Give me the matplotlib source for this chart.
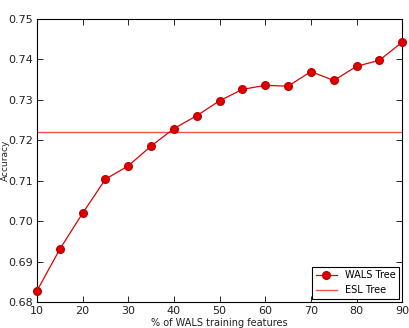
import matplotlib
matplotlib.use("Agg")
import matplotlib.pyplot as plt

pct = [10, 15, 20, 25, 30, 35, 40, 45, 50, 55, 60, 65, 70, 75, 80, 85, 90]
wals_acc = [0.6828, 0.6931, 0.7020, 0.7104, 0.7137, 0.7186, 0.7229, 0.7261, 0.7298,
            0.7326, 0.7336, 0.7334, 0.7370, 0.7348, 0.7383, 0.7398, 0.7443]
esl_acc = 0.722

fig = plt.figure(figsize=(4.09, 3.28), dpi=100)
ax = fig.add_axes([0.0905, 0.079, 0.893, 0.863])
ax.plot(pct, wals_acc, color='#e00000', marker='o', markersize=5.5, lw=0.9,
        markeredgecolor='#c00000', label='WALS Tree', clip_on=False, zorder=3)
ax.axhline(esl_acc, color='#f05050', lw=1.0, label='ESL Tree')
ax.set_xlim(10, 90)
ax.set_ylim(0.68, 0.75)
ax.set_xticks(range(10, 91, 10))
ax.set_yticks([0.68, 0.69, 0.70, 0.71, 0.72, 0.73, 0.74, 0.75])
ax.set_yticklabels(['0.68', '0.69', '0.70', '0.71', '0.72', '0.73', '0.74', '0.75'])
ax.tick_params(direction='in', top=True, right=True, labelsize=8, length=4, width=0.6, pad=3,
               labelcolor='#222222')
for s in ax.spines.values():
    s.set_linewidth(0.8)
ax.set_xlabel('% of WALS training features', fontsize=7, labelpad=1, color='#222222')
ax.set_ylabel('Accuracy', fontsize=6.5, color='#222222')
ax.yaxis.set_label_coords(-0.074, 0.5)
leg = ax.legend(loc='lower right', fontsize=7, fancybox=False, edgecolor='black',
                framealpha=1, borderpad=0.4, handlelength=2.2, borderaxespad=0.3)
leg.get_frame().set_linewidth(0.8)
fig.savefig('out.png', dpi=100)
